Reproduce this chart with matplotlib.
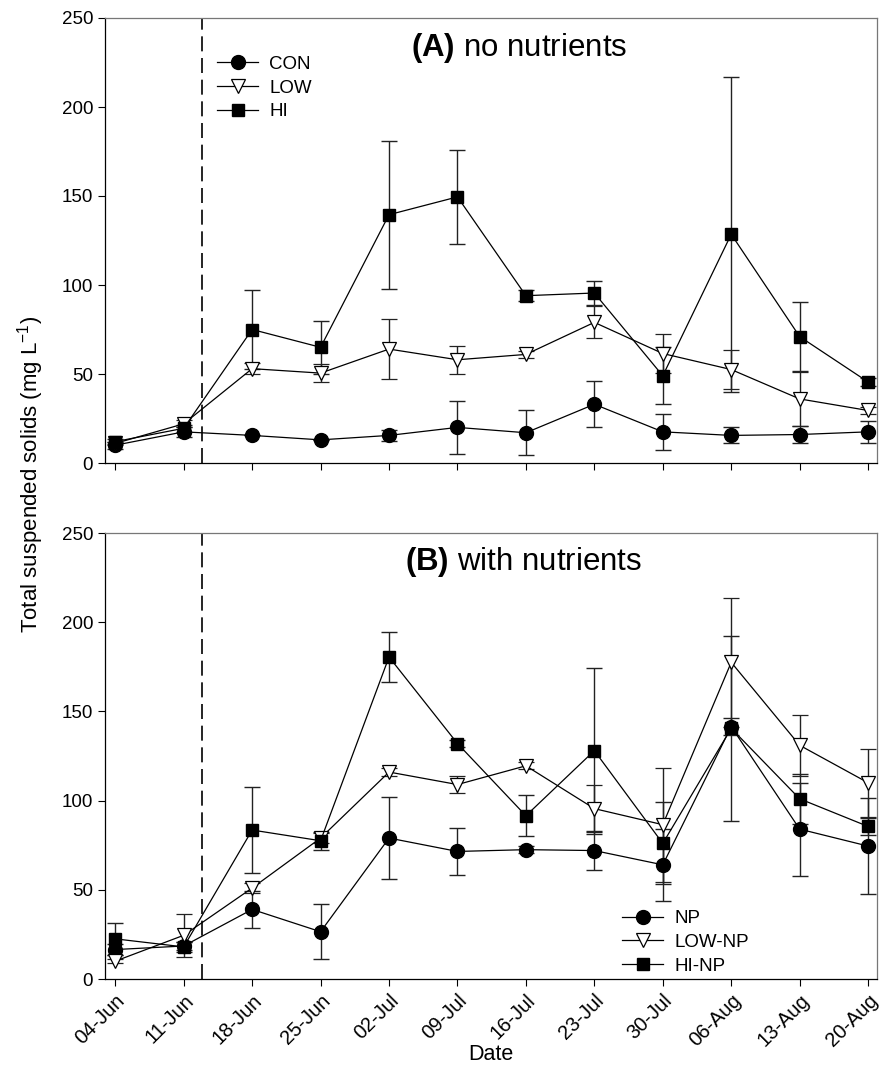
import numpy as np
import matplotlib
matplotlib.use("Agg")
import matplotlib.pyplot as plt
from matplotlib.lines import Line2D

plt.rcParams['font.family'] = ['Liberation Sans', 'DejaVu Sans']
plt.rcParams['mathtext.fontset'] = 'custom'
plt.rcParams['mathtext.rm'] = 'Liberation Sans'
plt.rcParams['mathtext.bf'] = 'Liberation Sans:bold'

dates = ['04-Jun', '11-Jun', '18-Jun', '25-Jun', '02-Jul', '09-Jul',
         '16-Jul', '23-Jul', '30-Jul', '06-Aug', '13-Aug', '20-Aug']
treatment_start = 1.27  # position of dashed line (between 11-Jun and 18-Jun)

# Panel A: no nutrients
con = [10, 17.5, 15.5, 13, 15.5, 20, 17, 33, 17.5, 15.5, 16, 17.5]
con_err = [2, 3, 0, 0, 3, 15, 12.5, 13, 10, 4.5, 4.7, 6]
low = [11, 22, 53, 50.5, 64, 58, 61, 79, 61.5, 52.5, 36, 29.5]
low_err = [1, 2, 3, 5, 17, 8, 2, 9, 11, 11, 15, 2]
hi = [12, 19.5, 75, 65, 139.5, 149.5, 94, 95.5, 49, 128.5, 71, 45.5]
hi_err = [1.5, 2, 22, 15, 41.5, 26.5, 3, 7, 16, 88.5, 19.5, 2]

# Panel B: with nutrients
np_ = [16.5, 18.5, 39, 26.5, 79, 71.5, 72.5, 72, 64, 141.5, 84, 74.5]
np_err = [3, 2, 10.5, 15.5, 23, 13, 2, 11, 20, 5, 26, 27]
lownp = [10, 24.5, 51, 79, 116, 109, 119.5, 95.5, 86.5, 177.5, 131, 110]
lownp_err = [1, 12, 3, 3, 2, 5, 2, 13, 32, 36, 17, 19]
hinp = [22.5, 18, 83.5, 77.5, 180.5, 132, 91.5, 128, 76, 140.5, 101, 85.5]
hinp_err = [9, 3, 24, 5, 14, 2, 11.5, 46.5, 23, 52, 14, 5]

x = np.arange(len(dates))

fig = plt.figure(figsize=(8.82, 10.69), dpi=100)
W, H = 882, 1069
axA = fig.add_axes([105 / W, 1 - 463 / H, 772 / W, 445 / H])
axB = fig.add_axes([105 / W, 1 - 979 / H, 772 / W, 446 / H])

styles = [
    dict(marker='o', mfc='black', mec='black', ms=10),
    dict(marker='v', mfc='white', mec='black', ms=10.5, mew=0.9),
    dict(marker='s', mfc='black', mec='black', ms=9),
]


def draw_panel(ax, series, errs, labels):
    handles = []
    for y, e, st, lab in zip(series, errs, styles, labels):
        ax.errorbar(x, y, yerr=e, color='black', lw=0.9, elinewidth=1.0,
                    ecolor='#222222', capsize=6, capthick=1.0,
                    zorder=3, **st)
        handles.append(Line2D([], [], color='black', lw=0.9, label=lab, **st))
    ax.axvline(treatment_start, color='black', lw=1.2, dashes=(9, 4), zorder=1)
    ax.set_xlim(-0.15, 11.13)
    ax.set_ylim(0, 250)
    ax.set_yticks([0, 50, 100, 150, 200, 250])
    ax.set_xticks(x)
    ax.tick_params(axis='both', direction='out', length=5, width=0.8,
                   labelsize=13.5, top=False, right=False)
    for side in ['top', 'right']:
        ax.spines[side].set_color('#777777')
    for sp in ax.spines.values():
        sp.set_linewidth(0.9)
    return handles


hA = draw_panel(axA, [con, low, hi], [con_err, low_err, hi_err], ['CON', 'LOW', 'HI'])
hB = draw_panel(axB, [np_, lownp, hinp], [np_err, lownp_err, hinp_err],
                ['NP', 'LOW-NP', 'HI-NP'])

axA.set_xticklabels([])
axB.set_xticklabels(dates, rotation=45, ha='right', rotation_mode='anchor',
                    fontsize=14.5)

axA.text(0.537, 0.933, r'$\bf{(A)}$ no nutrients', transform=axA.transAxes,
         ha='center', va='center', fontsize=22.5)
axB.text(0.542, 0.936, r'$\bf{(B)}$ with nutrients', transform=axB.transAxes,
         ha='center', va='center', fontsize=22.5)

for ax, h, loc, anchor in [(axA, hA, 'upper left', (0.145, 0.915)),
                           (axB, hB, 'lower left', (0.67, 0.01))]:
    ax.legend(handles=h, loc=loc, bbox_to_anchor=anchor, frameon=False,
              fontsize=13.5, handlelength=2.2, handletextpad=0.6,
              labelspacing=0.35, borderpad=0, borderaxespad=0)

fig.text(31 / W, 1 - 474 / H, r'Total suspended solids (mg L$^{-1}$)',
         rotation=90, ha='center', va='center', fontsize=16)
fig.text(491 / W, 1 - 1055 / H, 'Date', ha='center', va='center', fontsize=15.5)

fig.savefig('out.png', dpi=100)
